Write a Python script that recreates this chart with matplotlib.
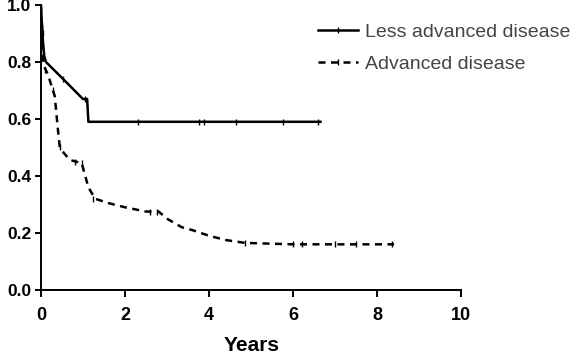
import matplotlib.pyplot as plt
from matplotlib.lines import Line2D
import numpy as np

plt.rcParams['font.family'] = ['Liberation Sans', 'DejaVu Sans']

# survival curves
less_x = [0, 0.02, 0.05, 0.08, 0.12, 0.53, 1.0, 1.1, 1.13, 6.65]
less_y = [1.0, 0.94, 0.87, 0.82, 0.80, 0.74, 0.67, 0.67, 0.59, 0.59]
less_cx = [0.01, 0.03, 0.04, 0.06, 0.53, 1.05, 2.3, 3.75, 3.87, 4.65, 5.75, 6.6]
less_cy = [0.97, 0.92, 0.90, 0.85, 0.74, 0.67, 0.59, 0.59, 0.59, 0.59, 0.59, 0.59]

adv_x = [0, 0.03, 0.06, 0.17, 0.33, 0.4, 0.45, 0.55, 0.69, 0.97, 1.13, 1.29,
         1.6, 2.0, 2.5, 2.8, 3.0, 3.35, 3.6, 4.0, 4.4, 4.86, 6.0, 8.4]
adv_y = [1.0, 0.88, 0.79, 0.755, 0.68, 0.57, 0.50, 0.48, 0.456, 0.445, 0.36, 0.32,
         0.305, 0.29, 0.275, 0.275, 0.25, 0.22, 0.21, 0.19, 0.175, 0.165, 0.16, 0.16]
adv_cx = [0.02, 0.05, 0.1, 0.3, 0.45, 0.8, 0.97, 1.25, 2.6, 2.75, 4.86, 6.0, 6.2, 7.0, 7.5, 8.35]
adv_cy = [0.93, 0.82, 0.77, 0.70, 0.50, 0.45, 0.445, 0.32, 0.275, 0.275, 0.165, 0.16, 0.16, 0.16, 0.16, 0.16]

xticks = [0, 2, 4, 6, 8, 10]
yticks = [0.0, 0.2, 0.4, 0.6, 0.8, 1.0]
ylabels = ['0.0', '0.2', '0.4', '0.6', '0.8', '1.0']
names = ['Less advanced disease', 'Advanced disease']

dash = (0, (2.8, 2.2))

fig = plt.figure(figsize=(5.84, 3.54), dpi=100)
ax = fig.add_axes([0.070, 0.181, 0.72, 0.805])

ax.plot(less_x, less_y, color='black', lw=1.8)
ax.plot(less_cx, less_cy, ls='none', marker='|', color='black', ms=5, mew=1)
ax.plot(adv_x, adv_y, color='black', lw=1.8, ls=dash)
ax.plot(adv_cx, adv_cy, ls='none', marker='|', color='black', ms=5, mew=1)

ax.set_xlim(0, 10)
ax.set_ylim(0, 1.0)
ax.set_xticks(xticks, [str(t) for t in xticks], fontweight='bold', fontsize=13)
ax.set_yticks(yticks, ylabels, fontweight='bold', fontsize=12.5)
ax.tick_params(axis='x', width=1.4, length=5, pad=7)
ax.tick_params(axis='y', width=1.4, length=4, pad=3)
ax.spines['top'].set_visible(False)
ax.spines['right'].set_visible(False)
ax.spines['left'].set_linewidth(1.4)
ax.spines['bottom'].set_linewidth(1.4)
ax.set_xlabel('Years', fontsize=15, fontweight='bold', labelpad=9)

handles = [Line2D([], [], color='black', lw=1.8, marker='|', ms=5, mew=1),
           Line2D([], [], color='black', lw=1.8, ls=dash, marker='|', ms=5, mew=1)]
leg = ax.legend(handles, names, loc='upper left', bbox_to_anchor=(0.66, 0.935),
                frameon=False, fontsize=14, handlelength=2.05, handletextpad=0.36,
                labelspacing=0.72, borderpad=0, borderaxespad=0, numpoints=1)
for t in leg.get_texts():
    t.set_color('#444444')

fig.savefig('out.png', dpi=100)
